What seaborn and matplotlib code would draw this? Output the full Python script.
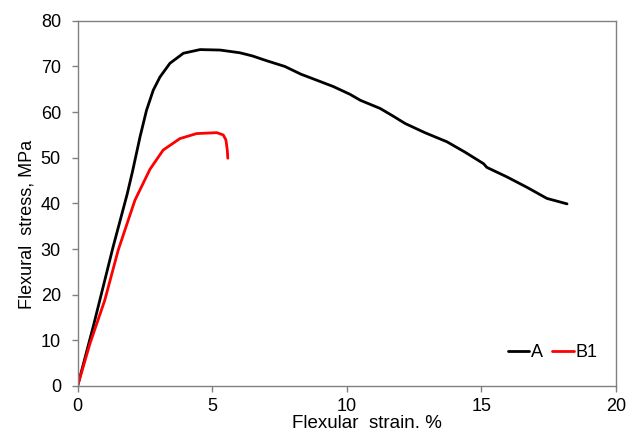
import matplotlib
matplotlib.use("Agg")
import matplotlib.pyplot as plt
import seaborn as sns
import pandas as pd

# Series A
a_strain = [0, 0.58, 1.32, 1.84, 2.04, 2.32, 2.56, 2.81, 3.06, 3.43, 3.93, 4.55, 5.29,
            6.03, 6.5, 7.0, 7.7, 8.3, 8.88, 9.5, 10.12, 10.5, 11.24, 11.7, 12.17, 12.9,
            13.72, 14.4, 15.08, 15.2, 15.95, 16.7, 17.43, 18.18]
a_stress = [0, 13, 30.5, 42, 47.0, 54.6, 60.4, 64.8, 67.7, 70.7, 72.9, 73.7, 73.6,
            73.0, 72.3, 71.3, 70.0, 68.3, 67.0, 65.6, 63.9, 62.6, 60.8, 59.2, 57.5, 55.5,
            53.5, 51.2, 48.7, 47.9, 45.8, 43.5, 41.1, 39.9]

# Series B1
b_strain = [0, 0.46, 1.01, 1.51, 2.13, 2.69, 3.18, 3.8, 4.42, 5.17, 5.41, 5.51, 5.56, 5.58]
b_stress = [0, 9.3, 18.8, 29.8, 40.7, 47.5, 51.7, 54.2, 55.3, 55.5, 55.0, 53.9, 51.7, 49.9]

x_ticks = [0, 5, 10, 15, 20]
y_ticks = [0, 10, 20, 30, 40, 50, 60, 70, 80]

df = pd.concat([
    pd.DataFrame({"strain": a_strain, "stress": a_stress, "series": "A"}),
    pd.DataFrame({"strain": b_strain, "stress": b_stress, "series": "B1"}),
], ignore_index=True)

sns.set_style("white")
plt.rcParams["font.family"] = ["Liberation Sans", "DejaVu Sans"]
plt.rcParams["text.color"] = "black"
plt.rcParams["axes.labelcolor"] = "black"
plt.rcParams["xtick.color"] = "black"
plt.rcParams["ytick.color"] = "black"

fig = plt.figure(figsize=(6.36, 4.34), dpi=100)
ax = fig.add_axes([0.122, 0.1106, 0.8466, 0.8414])

sns.lineplot(data=df, x="strain", y="stress", hue="series", sort=False,
             palette={"A": "black", "B1": "#ff0000"}, linewidth=2.0, ax=ax,
             estimator=None)
for ln in ax.get_lines():
    ln.set_solid_joinstyle("round")
    ln.set_solid_capstyle("round")

ax.set_xlim(0, 20)
ax.set_ylim(0, 80)
ax.set_xticks(x_ticks)
ax.set_yticks(y_ticks)
ax.tick_params(axis="both", direction="out", length=4, width=1, color="#808080",
               labelcolor="black", labelsize=13, left=True, bottom=True)
ax.tick_params(axis="y", pad=8)
ax.tick_params(axis="x", pad=5)
for s in ax.spines.values():
    s.set_color("#808080")
    s.set_linewidth(1.0)
    s.set_visible(True)

ax.set_xlabel("Flexular  strain. %", fontsize=13.5, labelpad=0)
ax.set_ylabel("Flexural  stress, MPa", fontsize=13, labelpad=4)
ax.xaxis.label.set_x(0.537)
ax.yaxis.label.set_y(0.4435)

leg = ax.legend(loc="lower right", bbox_to_anchor=(0.979, 0.049), ncol=2, frameon=False,
                fontsize=13, handlelength=1.2, handletextpad=0.1, columnspacing=0.5,
                borderaxespad=0)
for h in leg.get_lines():
    h.set_linewidth(2.0)

fig.savefig("out.png", dpi=100)
